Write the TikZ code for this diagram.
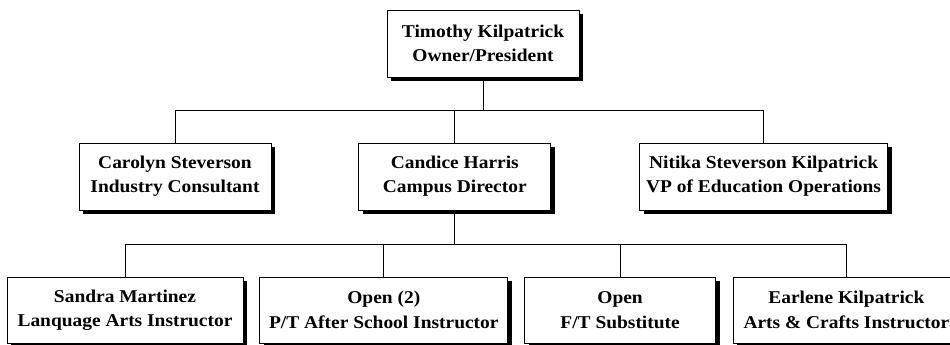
\documentclass[tikz,border=0pt]{standalone}
\usepackage{fontspec}
\setmainfont{Liberation Serif}[FakeStretch=1.08]
\usetikzlibrary{positioning,shadows}

\begin{document}
\begin{tikzpicture}[
    x=1pt,y=1pt,
    line width=0.8pt,
    person/.style={
      draw,fill=white,align=center,inner sep=0pt,
      minimum height=67pt,
      font=\fontsize{18}{24.3}\selectfont\bfseries,
      drop shadow={shadow xshift=4pt,shadow yshift=-4pt,fill=black,opacity=1}
    },
    staff/.style={person,minimum height=66pt}
  ]
  \useasboundingbox (0,0) rectangle (950,-345);

  \node (owner) [person,minimum width=192pt] at (483,-43.5)
    {Timothy Kilpatrick\\Owner/President};

  \node (carolyn) [person,minimum width=192pt] at (175,-176.5)
    {Carolyn Steverson\\Industry Consultant};
  \node (candice) [person,minimum width=192pt,right=87pt of carolyn]
    {Candice Harris\\Campus Director};
  \node (nitika)  [person,minimum width=248pt,right=88pt of candice]
    {Nitika Steverson Kilpatrick\\VP of Education Operations};

  \node (sandra)  [staff,minimum width=236pt] at (125,-310)
    {Sandra Martinez\\Lanquage Arts Instructor};
  \node (open2)   [staff,minimum width=248pt,right=16pt of sandra]
    {Open (2)\\P/T After School Instructor};
  \node (open1)   [staff,minimum width=191pt,right=16pt of open2]
    {Open\\F/T Substitute};
  \node (earlene) [staff,minimum width=226pt,right=17pt of open1]
    {Earlene Kilpatrick\\Arts \& Crafts Instructor};

  % draw edges
  \coordinate [below=33pt of owner] (bus1);
  \coordinate [below=34pt of candice] (bus2);
  \draw (owner) -- (bus1);
  \foreach \n in {carolyn,candice,nitika}
    \draw (bus1) -| (\n.north);
  \draw (candice) -- (bus2);
  \foreach \n in {sandra,open2,open1,earlene}
    \draw (bus2) -| (\n.north);
\end{tikzpicture}
\end{document}
